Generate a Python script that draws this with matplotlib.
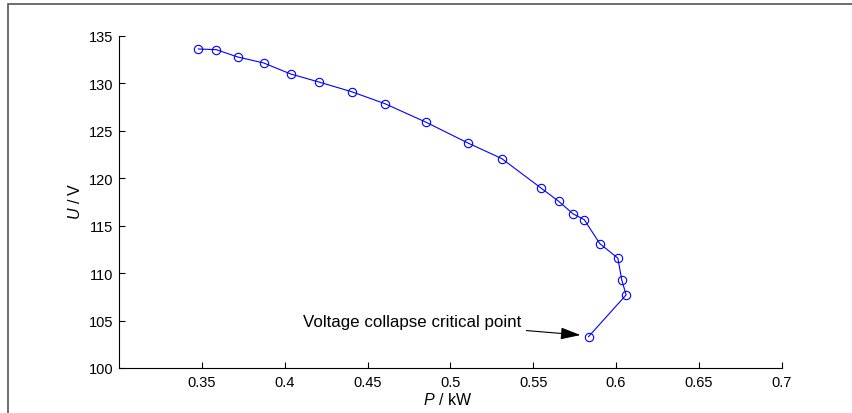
import matplotlib
matplotlib.use("Agg")
import matplotlib.pyplot as plt
from matplotlib.patches import Rectangle

P_kW = [0.3479, 0.3587, 0.3716, 0.3873, 0.4036, 0.4205, 0.4404, 0.4605, 0.4854,
        0.5106, 0.5311, 0.5546, 0.5653, 0.5741, 0.5808, 0.5902, 0.6011, 0.6035,
        0.6061, 0.5834]
U_V = [133.6, 133.53, 132.76, 132.13, 130.97, 130.13, 129.1, 127.84, 125.88,
       123.7, 122.05, 118.97, 117.57, 116.23, 115.63, 113.1, 111.57, 109.25,
       107.7, 103.3]
x_ticks = [0.35, 0.4, 0.45, 0.5, 0.55, 0.6, 0.65, 0.7]
x_tick_labels = ["0.35", "0.4", "0.45", "0.5", "0.55", "0.6", "0.65", "0.7"]
y_ticks = [100, 105, 110, 115, 120, 125, 130, 135]
annotation_text = "Voltage collapse critical point"

plt.rcParams['font.family'] = ['Liberation Sans', 'DejaVu Sans']
plt.rcParams['mathtext.fontset'] = 'custom'
plt.rcParams['mathtext.it'] = 'Liberation Sans:italic'
plt.rcParams['mathtext.rm'] = 'Liberation Sans'

W, H = 853, 414
fig = plt.figure(figsize=(W / 100, H / 100), dpi=100)
x0, x1, y0, y1 = 119, 781.7, 369, 36.7
ax = fig.add_axes([x0 / W, 1 - y0 / H, (x1 - x0) / W, (y0 - y1) / H])

ax.plot(P_kW, U_V, color='#0000ff', lw=0.8, marker='o', markersize=6,
        markerfacecolor='none', markeredgecolor='#0000ff', markeredgewidth=0.8)

ax.set_xlim(0.3, 0.7)
ax.set_ylim(100, 135)
ax.set_xticks(x_ticks)
ax.set_xticklabels(x_tick_labels)
ax.set_yticks(y_ticks)
ax.tick_params(direction='in', length=4, width=0.8, labelsize=10.5, colors='black', pad=5)
ax.tick_params(axis='y', pad=4)
for s in ['top', 'right']:
    ax.spines[s].set_visible(False)
for s in ['left', 'bottom']:
    ax.spines[s].set_linewidth(0.8)

ax.set_xlabel(r"$P$ / kW", fontsize=11.5)
ax.xaxis.set_label_coords((448 - x0) / (x1 - x0), -(405 - y0) / (y0 - y1))
ax.xaxis.label.set_va('baseline')
ax.set_ylabel(r"$U$ / V", fontsize=11.5)
ax.yaxis.set_label_coords(-(x0 - 75) / (x1 - x0), (y0 - 201) / (y0 - y1))
ax.yaxis.label.set_va('center')

ax.annotate(annotation_text, xy=(P_kW[-1] - 0.0015, U_V[-1] + 0.12), xytext=(0.4108, 104.95),
            fontsize=12.2, ha='left', va='center',
            arrowprops=dict(arrowstyle='-|>,head_length=1.0,head_width=0.3', color='black',
                            lw=0.8, shrinkA=2, shrinkB=4))

fig.patches.append(Rectangle((8 / W, -0.1), 1.2, 1 - 5 / H + 0.1, transform=fig.transFigure,
                             fill=False, edgecolor='#555555', lw=1.2))

fig.savefig("out.png", dpi=100)
